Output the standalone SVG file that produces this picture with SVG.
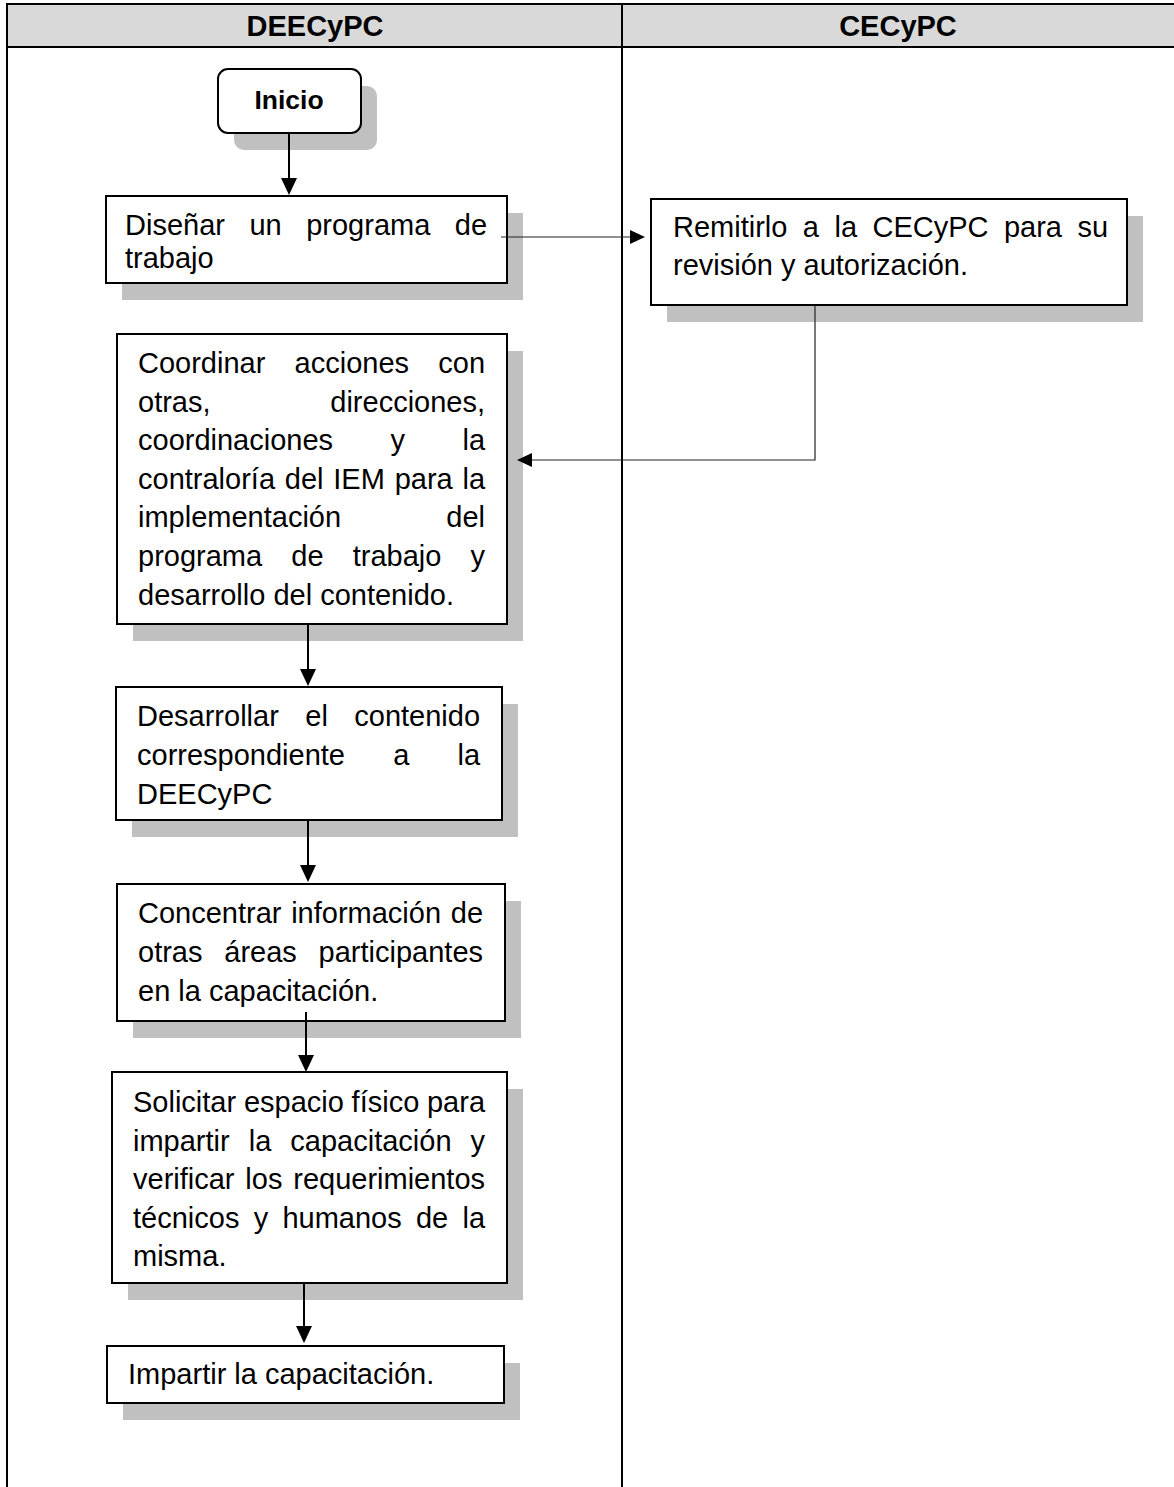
<svg xmlns="http://www.w3.org/2000/svg" width="1174" height="1487" viewBox="0 0 1174 1487">
<defs>
<style>
.t{font-family:"Liberation Sans",Arial,sans-serif;font-size:29px;fill:#000}
.h{font-family:"Liberation Sans",Arial,sans-serif;font-size:29px;font-weight:bold;fill:#000;text-anchor:middle}
.ini{font-family:"Liberation Sans",Arial,sans-serif;font-size:26.5px;font-weight:bold;fill:#000;text-anchor:middle}
.box{fill:#fff;stroke:#000;stroke-width:2}
.sh{fill:#c0c0c0}
.grid{stroke:#000;stroke-width:2;fill:none}
.c1{stroke:#000;stroke-width:2;fill:none;marker-end:url(#ahB)}
.c2{stroke:#222;stroke-width:1.2;fill:none;marker-end:url(#ahS)}
</style>
<marker id="ahB" markerUnits="userSpaceOnUse" viewBox="0 0 17 16" refX="9" refY="8" markerWidth="17" markerHeight="16" orient="auto">
<path d="M0,0 L17,8 L0,16 z" fill="#000"/>
</marker>
<marker id="ahS" markerUnits="userSpaceOnUse" viewBox="0 0 15 14" refX="9" refY="7" markerWidth="15" markerHeight="14" orient="auto">
<path d="M0,0 L15,7 L0,14 z" fill="#000"/>
</marker>
</defs>

<g id="table">
<rect x="7" y="4" width="1167" height="43" fill="#d9d9d9"/>
<line class="grid" x1="6" y1="4" x2="1174" y2="4"/>
<line class="grid" x1="6" y1="47" x2="1174" y2="47"/>
<line class="grid" x1="7" y1="3" x2="7" y2="1487"/>
<line class="grid" x1="622" y1="3" x2="622" y2="1487"/>
<text class="h" x="315" y="36">DEECyPC</text>
<text class="h" x="898" y="36">CECyPC</text>
</g>

<g id="n-inicio">
<rect class="sh" x="234" y="86" width="143" height="64" rx="10"/>
<rect class="box" x="218" y="69" width="143" height="64" rx="10"/>
<text class="ini" x="289" y="109">Inicio</text>
</g>

<g id="n-disenar">
<rect class="sh" x="122" y="213" width="401" height="87"/>
<rect class="box" x="106" y="196" width="401" height="87"/>
<text class="t" x="125" y="235" word-spacing="16.44">Diseñar un programa de</text>
<text class="t" x="125" y="268">trabajo</text>
</g>

<g id="n-remitir">
<rect class="sh" x="667" y="216" width="476" height="106"/>
<rect class="box" x="651" y="199" width="476" height="106"/>
<text class="t" x="673" y="237" word-spacing="7.40">Remitirlo a la CECyPC para su</text>
<text class="t" x="673" y="275">revisión y autorización.</text>
</g>

<g id="n-coordinar">
<rect class="sh" x="133" y="351" width="390" height="290"/>
<rect class="box" x="117" y="334" width="390" height="290"/>
<text class="t" x="138" y="373" word-spacing="21.19">Coordinar acciones con</text>
<text class="t" x="138" y="411.6" word-spacing="111.70">otras, direcciones,</text>
<text class="t" x="138" y="450.2" word-spacing="49.40">coordinaciones y la</text>
<text class="t" x="138" y="488.8" word-spacing="1.73">contraloría del IEM para la</text>
<text class="t" x="138" y="527.4" word-spacing="97.20">implementación del</text>
<text class="t" x="138" y="566" word-spacing="21.11">programa de trabajo y</text>
<text class="t" x="138" y="604.6">desarrollo del contenido.</text>
</g>

<g id="n-desarrollar">
<rect class="sh" x="132" y="704" width="386" height="133"/>
<rect class="box" x="116" y="687" width="386" height="133"/>
<text class="t" x="137" y="726" word-spacing="18.40">Desarrollar el contenido</text>
<text class="t" x="137" y="765" word-spacing="40.13">correspondiente a la</text>
<text class="t" x="137" y="804">DEECyPC</text>
</g>

<g id="n-concentrar">
<rect class="sh" x="133" y="901" width="388" height="137"/>
<rect class="box" x="117" y="884" width="388" height="137"/>
<text class="t" x="138" y="923" word-spacing="1.66">Concentrar información de</text>
<text class="t" x="138" y="962" word-spacing="13.74">otras áreas participantes</text>
<text class="t" x="138" y="1001">en la capacitación.</text>
</g>

<g id="n-solicitar">
<rect class="sh" x="128" y="1089" width="395" height="211"/>
<rect class="box" x="112" y="1072" width="395" height="211"/>
<text class="t" x="133" y="1112" word-spacing="-0.32">Solicitar espacio físico para</text>
<text class="t" x="133" y="1150.6" word-spacing="10.97">impartir la capacitación y</text>
<text class="t" x="133" y="1189.2" word-spacing="2.77">verificar los requerimientos</text>
<text class="t" x="133" y="1227.8" word-spacing="6.20">técnicos y humanos de la</text>
<text class="t" x="133" y="1266.4">misma.</text>
</g>

<g id="n-impartir">
<rect class="sh" x="123" y="1363" width="397" height="57"/>
<rect class="box" x="107" y="1346" width="397" height="57"/>
<text class="t" x="128" y="1384">Impartir la capacitación.</text>
</g>

<g id="connectors">
<line class="c1" x1="289" y1="133" x2="289" y2="187"/>
<line class="c2" x1="501" y1="237" x2="639" y2="237"/>
<polyline class="c2" points="815,305 815,460 523,460"/>
<line class="c1" x1="308" y1="624" x2="308" y2="678"/>
<line class="c1" x1="308" y1="820" x2="308" y2="874"/>
<line class="c1" x1="306" y1="1012" x2="306" y2="1064"/>
<line class="c1" x1="304" y1="1283" x2="304" y2="1335"/>
</g>
</svg>
